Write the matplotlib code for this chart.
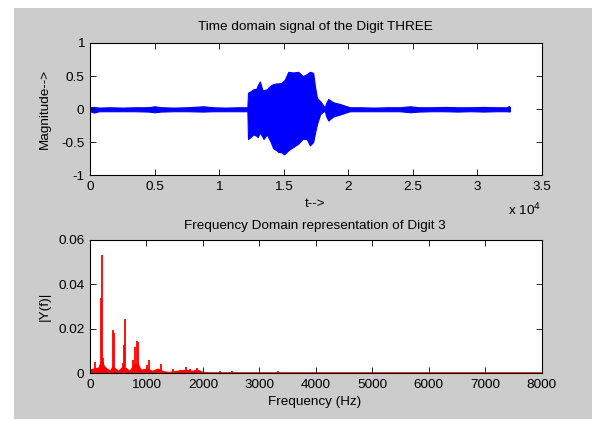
import matplotlib
matplotlib.use('Agg')
import matplotlib.pyplot as plt
from matplotlib.patches import Rectangle

plt.rcParams['font.family'] = ['Liberation Sans', 'DejaVu Sans']
plt.rcParams['axes.unicode_minus'] = False

# ---- time domain envelope (samples, upper, lower) ----
time_t = [0, 300, 700, 1500, 2500, 3500, 4500, 5000, 5500, 6500, 7500, 8800, 9500,
          10500, 11500, 12200, 12250, 12450, 12650, 12900, 13000, 13170, 13380, 13450,
          13700, 14000, 14200, 14450, 14600, 14850, 15030, 15110, 15370, 15750, 16140,
          16500, 16800, 17050, 17300, 17450, 17600, 17850, 18200, 18300, 18470, 18850,
          19370, 19900, 20150, 21000, 22000, 23000, 24000, 24800, 25500, 26500, 27500,
          28500, 29500, 30500, 31500, 32300, 32500, 32550]
time_upper = [0.03, 0.035, 0.025, 0.03, 0.025, 0.03, 0.03, 0.045, 0.03, 0.025, 0.03, 0.045, 0.03,
              0.025, 0.03, 0.03, 0.25, 0.27, 0.30, 0.31, 0.36, 0.42, 0.28, 0.29,
              0.30, 0.36, 0.38, 0.39, 0.39, 0.40, 0.43, 0.45, 0.565, 0.555, 0.565,
              0.50, 0.53, 0.565, 0.55, 0.33, 0.17, 0.12, 0.03, 0.09, 0.155, 0.105,
              0.08, 0.045, 0.03, 0.03, 0.025, 0.03, 0.03, 0.045, 0.03, 0.03, 0.035,
              0.03, 0.03, 0.035, 0.03, 0.03, 0.05, 0.03]
time_lower = [-0.03, -0.05, -0.03, -0.03, -0.03, -0.03, -0.035, -0.045, -0.035, -0.03, -0.03, -0.035, -0.03,
              -0.03, -0.03, -0.03, -0.45, -0.42, -0.38, -0.40, -0.42, -0.35, -0.42, -0.45,
              -0.38, -0.49, -0.59, -0.62, -0.645, -0.65, -0.68, -0.67, -0.62, -0.57, -0.52,
              -0.445, -0.45, -0.545, -0.495, -0.35, -0.22, -0.07, -0.02, -0.10, -0.17, -0.11,
              -0.08, -0.045, -0.03, -0.03, -0.03, -0.03, -0.03, -0.045, -0.035, -0.03, -0.03,
              -0.035, -0.03, -0.035, -0.03, -0.03, -0.035, -0.03]

# ---- frequency domain: noise floor and harmonic peaks ----
floor_freq = [0, 50, 150, 200, 250, 350, 400, 450, 500, 580, 650, 700, 780, 850, 900,
              1000, 1100, 1200, 1300, 1400, 1600, 1700, 1800, 1900, 2000, 2100, 8000]
floor_vals = [0.0015, 0.002, 0.0025, 0.006, 0.003, 0.001, 0.003, 0.002, 0.001, 0.003, 0.002,
              0.001, 0.004, 0.004, 0.0015, 0.002, 0.001, 0.002, 0.0008, 0.0005, 0.0012,
              0.0015, 0.001, 0.0015, 0.0005, 0.0003, 0.0003]
peak_freq = [89, 189, 207, 224, 413, 431, 580, 608, 626, 768, 797, 826, 845, 1004, 1051,
             1252, 1476, 1594, 1694, 1771, 1889, 2300, 2509, 3336]
peak_vals = [0.005, 0.0338, 0.0534, 0.0068, 0.0196, 0.0182, 0.0047, 0.0125, 0.0242, 0.0057,
             0.0117, 0.0144, 0.0141, 0.0035, 0.006, 0.0042, 0.0017, 0.0015, 0.0027, 0.002,
             0.0023, 0.0008, 0.0008, 0.001]

time_ticks = [0, 5000, 10000, 15000, 20000, 25000, 30000, 35000]
time_ticklabels = ['0', '0.5', '1', '1.5', '2', '2.5', '3', '3.5']
mag_ticks = [-1, -0.5, 0, 0.5, 1]
mag_ticklabels = ['-1', '-0.5', '0', '0.5', '1']
freq_ticks = [0, 1000, 2000, 3000, 4000, 5000, 6000, 7000, 8000]
amp_ticks = [0, 0.02, 0.04, 0.06]
amp_ticklabels = ['0', '0.02', '0.04', '0.06']

W, H = 592, 421
fig = plt.figure(figsize=(W / 100, H / 100), dpi=100, facecolor='white')
fig.patches.append(Rectangle((14 / W, 2 / H), 1 - 14 / W, 1 - 10 / H, transform=fig.transFigure,
                             facecolor='#cccccc', edgecolor='none', zorder=-10))


def box(left, top, right, bottom):
    return [left / W, 1 - bottom / H, (right - left) / W, (bottom - top) / H]


fs = 9.7
ax1 = fig.add_axes(box(90, 43, 541.5, 175.5))
ax2 = fig.add_axes(box(90, 240, 541.5, 373))

ax1.fill_between(time_t, time_lower, time_upper, color='#0000ff', linewidth=0.8)
ax1.set_xlim(0, 35000)
ax1.set_ylim(-1, 1)
ax1.set_xticks(time_ticks)
ax1.set_xticklabels(time_ticklabels)
ax1.set_yticks(mag_ticks)
ax1.set_yticklabels(mag_ticklabels)

ax2.fill_between(floor_freq, 0, floor_vals, color='#ff0000', linewidth=0.8)
ax2.vlines(peak_freq, 0, peak_vals, color='#ff0000', linewidth=1.3)
ax2.set_xlim(0, 8000)
ax2.set_ylim(0, 0.06)
ax2.set_xticks(freq_ticks)
ax2.set_xticklabels([str(f) for f in freq_ticks])
ax2.set_yticks(amp_ticks)
ax2.set_yticklabels(amp_ticklabels)

for ax in (ax1, ax2):
    ax.set_facecolor('white')
    ax.tick_params(direction='in', top=True, right=True, length=4, width=0.6,
                   labelsize=fs, pad=4, colors='black')
    for sp in ax.spines.values():
        sp.set_linewidth(0.8)

# text placed in pixel positions of the reference
def ftext(x, y, s, **kw):
    fig.text(x / W, 1 - y / H, s, fontsize=fs, ha='center', va='center', **kw)


ftext(315, 27, 'Time domain signal of the Digit THREE')
ftext(45, 109, 'Magnitude-->', rotation=90)
ftext(315, 204, 't-->')
ftext(524, 210, r'x 10$^{4}$')
ftext(315, 226, 'Frequency Domain representation of Digit 3')
ftext(45, 306, '|Y(f)|', rotation=90)
ftext(315, 402, 'Frequency (Hz)')

fig.savefig('out.png', dpi=100, facecolor=fig.get_facecolor())
